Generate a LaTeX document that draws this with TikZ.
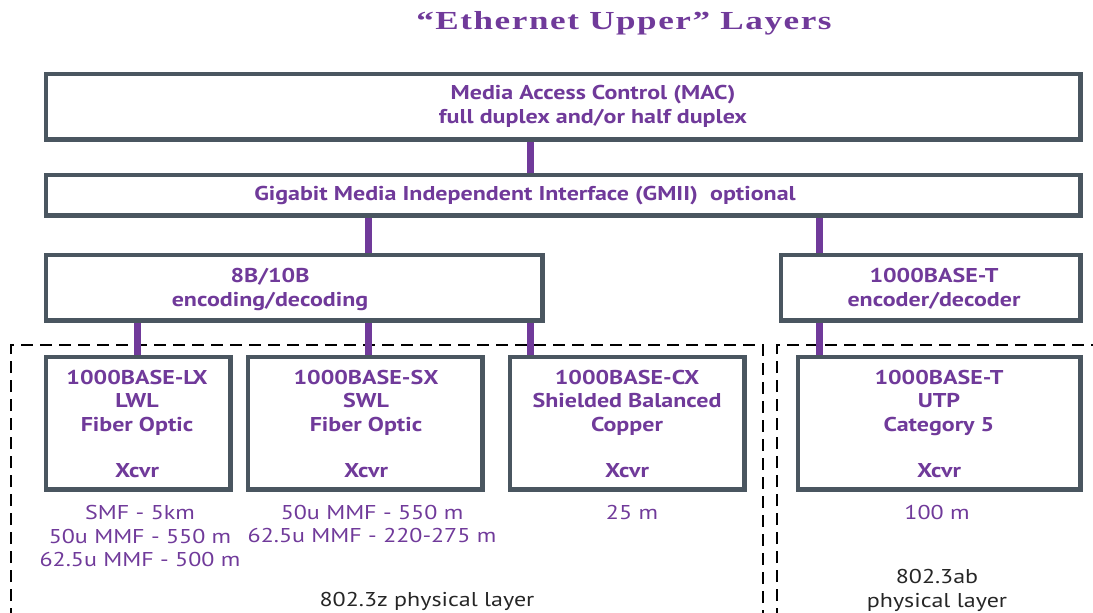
\documentclass[tikz,border=0pt]{standalone}
\usepackage{fontspec}
\setmainfont{PT Sans}[FakeStretch=1.2]
\newfontfamily\titlefont{Liberation Serif}[FakeStretch=1.35, LetterSpace=6]
\definecolor{pur}{HTML}{703A9A}
\definecolor{frame}{HTML}{4A5660}
\begin{document}
\begin{tikzpicture}[x=1pt,y=-1pt,
  box/.style={draw=frame, line width=3pt, fill=white, inner sep=0, anchor=north west},
  conn/.style={draw=pur, line width=7pt},
  lbl/.style={text=pur, font=\bfseries\fontsize{20}{23.3}\selectfont, align=center, inner sep=0},
  lbltwo/.style={lbl, font=\bfseries\fontsize{20}{24}\selectfont},
  rng/.style={text=pur, font=\fontsize{20}{23.5}\selectfont, align=center, inner sep=0},
  note/.style={text=black!85, font=\fontsize{20}{24}\selectfont, align=center, inner sep=0},
  zone/.style={draw=black, line width=2.8pt, dash pattern=on 12pt off 7pt}]
\useasboundingbox (0,0) rectangle (1093,613);
% physical layer zones
\draw[zone] (11,620) -- (11,345) -- (763,345) -- (763,620);
\draw[zone] (777,620) -- (777,345) -- (1100,345);
% connector x positions
\coordinate (c1) at (530,0);
\coordinate (c2) at (368,0);
\coordinate (c3) at (137,0);
\coordinate (c4) at (819,0);
% boxes (geometry)
\path (45,73) node[box, minimum width=1033, minimum height=64] (mac) {};
\path (45,174) node[box, minimum width=1033, minimum height=39] (gmii) {};
\path (45,254) node[box, minimum width=495, minimum height=64] (enc) {};
\path (780,254) node[box, minimum width=298, minimum height=64] (tenc) {};
\path (45,356) node[box, minimum width=183, minimum height=131] (lx) {};
\path (247,356) node[box, minimum width=233, minimum height=131] (sx) {};
\path (509,356) node[box, minimum width=233, minimum height=131] (cx) {};
\path (797,356) node[box, minimum width=281, minimum height=131] (ut) {};
% connectors
\draw[conn] (mac.south -| c1) -- (gmii.north -| c1);
\draw[conn] (gmii.south -| c2) -- (enc.north -| c2);
\draw[conn] (gmii.south -| c4) -- (tenc.north -| c4);
\draw[conn] (enc.south -| c3) -- (lx.north -| c3);
\draw[conn] (enc.south -| c2) -- (sx.north -| c2);
\draw[conn] (enc.south -| c1) -- (cx.north -| c1);
\draw[conn] (tenc.south -| c4) -- (ut.north -| c4);
% redraw box outlines over connectors
\foreach \n in {mac,gmii,enc,tenc,lx,sx,cx,ut}
  \draw[frame, line width=3pt] (\n.south west) rectangle (\n.north east);
% title
\node[text=pur, font=\titlefont\bfseries\fontsize{26}{28}\selectfont, inner sep=0, anchor=base] (title) at (624,30) {“Ethernet Upper” Layers};
% box texts
\node[lbltwo] (tmac) at (593,106.5) {Media Access Control (MAC)\\full duplex and/or half duplex};
\node[lbl] (tgmii) at (525,196) {Gigabit Media Independent Interface (GMII)~~optional};
\node[lbltwo] (tenct) at (270,289) {8B/10B\\encoding/decoding};
\node[lbltwo] (ttenc) at (934,289) {1000BASE-T\\encoder/decoder};
\node[lbl] (tlx) at (137,424) {1000BASE-LX\\LWL\\Fiber Optic\\[23.3pt]Xcvr};
\node[lbl] (tsx) at (366,424) {1000BASE-SX\\SWL\\Fiber Optic\\[23.3pt]Xcvr};
\node[lbl] (tcx) at (627,424) {1000BASE-CX\\Shielded Balanced\\Copper\\[23.3pt]Xcvr};
\node[lbl] (tut) at (939,424) {1000BASE-T\\UTP\\Category 5\\[23.3pt]Xcvr};
% reach texts
\node[rng] (rlx) at (140,536) {SMF - 5km\\50u MMF - 550 m\\62.5u MMF - 500 m};
\node[rng] (rsx) at (372,524) {50u MMF - 550 m\\62.5u MMF - 220-275 m};
\node[rng] (rcx) at (632,512) {25 m};
\node[rng] (rut) at (937,512) {100 m};
% zone labels
\node[note] (z1) at (427,601) {802.3z physical layer};
\node[note] (z2) at (937,590) {802.3ab\\physical layer};
\end{tikzpicture}
\end{document}
